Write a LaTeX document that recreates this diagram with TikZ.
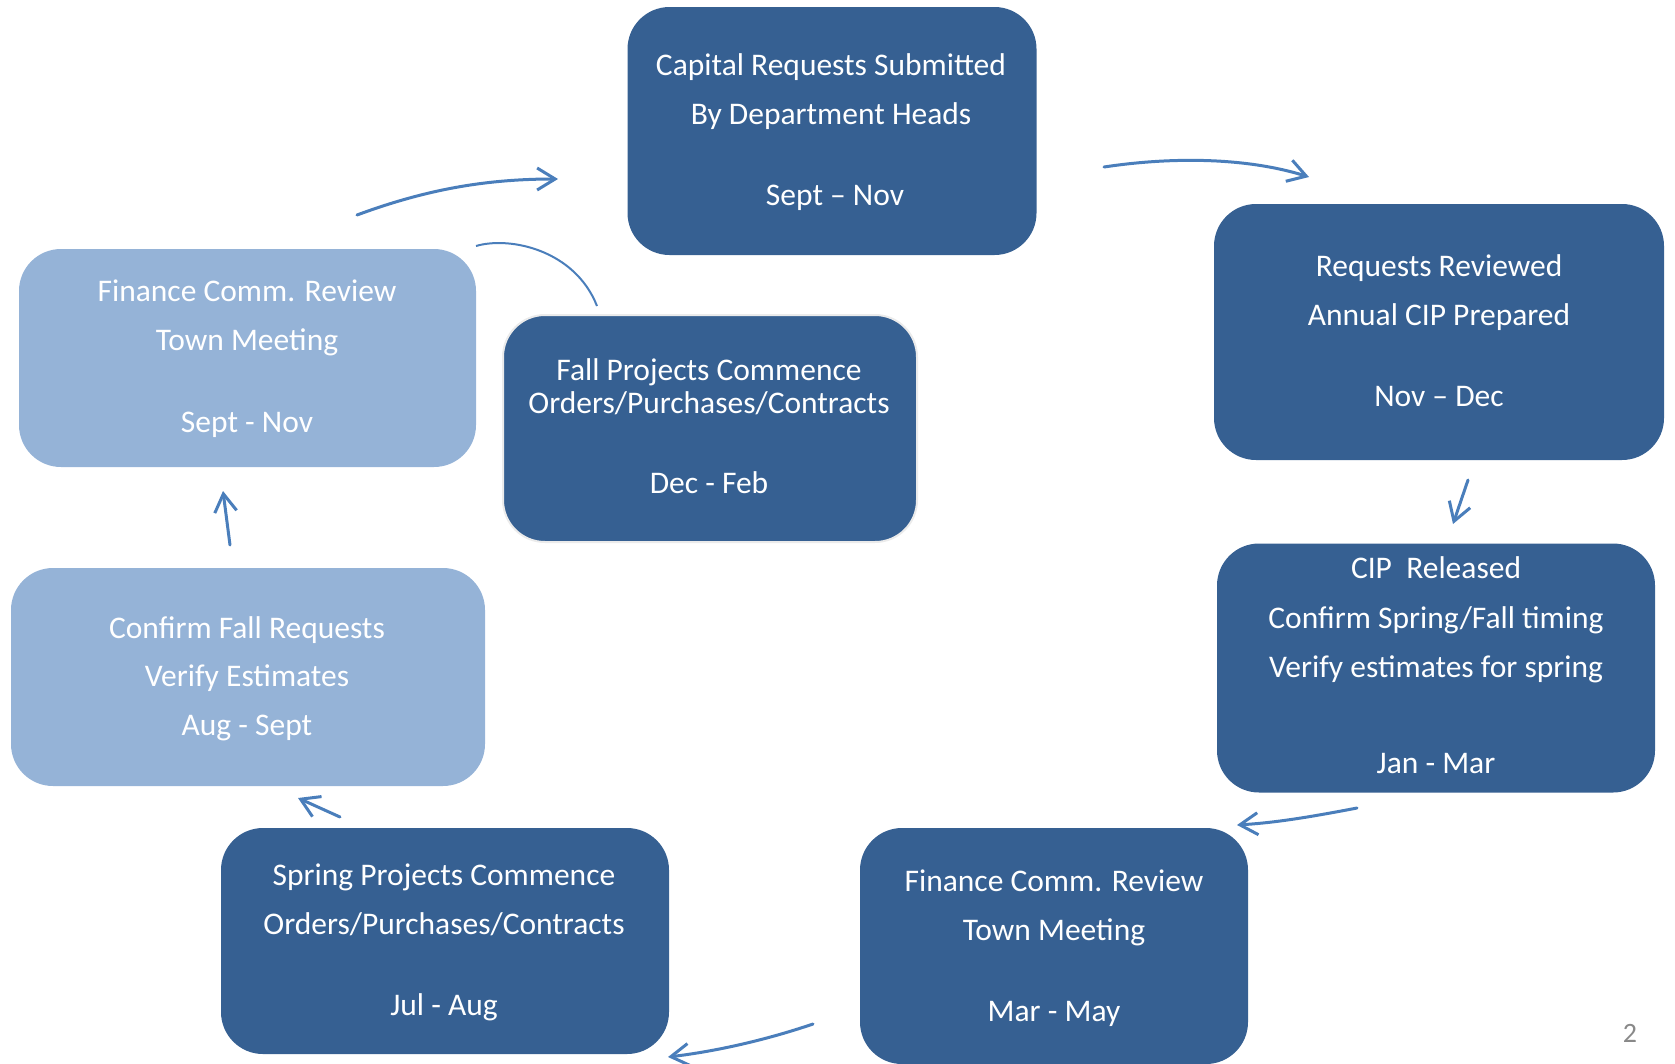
\documentclass[tikz,border=0pt]{standalone}
\usepackage{fontspec}
\setmainfont{Carlito}
\usetikzlibrary{arrows.meta}
\definecolor{boxdark}{RGB}{54,96,146}
\definecolor{boxlight}{RGB}{149,179,215}
\definecolor{arrowblue}{RGB}{74,126,187}
\definecolor{pagegray}{RGB}{137,137,137}
\tikzset{
  darkbox/.style={fill=boxdark, draw=none, rounded corners=42pt, inner sep=0pt},
  lightbox/.style={fill=boxlight, draw=none, rounded corners=42pt, inner sep=0pt},
  txt/.style={text=white, anchor=base, inner sep=0pt, font=\fontsize{31.5}{38}\selectfont},
  flowarrow/.style={draw=arrowblue, line width=3pt, line cap=round, -{Straight Barb[length=18pt,width=22pt,line width=3pt]}},
  thinarc/.style={draw=arrowblue, line width=2pt},
}
\begin{document}
\begin{tikzpicture}[x=1pt,y=-1pt]
\path[use as bounding box] (0,0) rectangle (1675,1063);
\clip (0,0) rectangle (1675,1063);

% boxes
\node[darkbox, minimum width=409pt, minimum height=248pt] (b1) at (832,131) {};
\node[darkbox, minimum width=450pt, minimum height=256pt] (b2) at (1439,332) {};
\node[darkbox, minimum width=438pt, minimum height=249pt] (b3) at (1436,668) {};
\node[darkbox, minimum width=388pt, minimum height=236pt] (b4) at (1054,946) {};
\node[darkbox, minimum width=448pt, minimum height=226pt] (b5) at (445,941) {};
\node[lightbox, minimum width=474pt, minimum height=218pt] (b6) at (248,677) {};
\node[lightbox, minimum width=457pt, minimum height=218pt] (b7) at (247.5,358) {};
\node[darkbox, draw=black!8, line width=2pt, minimum width=414pt, minimum height=227pt] (b8) at (710,428.5) {};

% texts
\node[txt] (t1a) at (831,75) {Capital Requests Submitted};
\node[txt] (t1b) at (831,124) {By Department Heads};
\node[txt] (t1c) at (835,205) {Sept -- Nov};

\node[txt] (t2a) at (1439,276) {Requests Reviewed};
\node[txt] (t2b) at (1439,325) {Annual CIP Prepared};
\node[txt] (t2c) at (1439,406) {Nov -- Dec};

\node[txt] (t3a) at (1436,578) {CIP\ \ Released};
\node[txt] (t3b) at (1436,628) {Confirm Spring/Fall timing};
\node[txt] (t3c) at (1436,677) {Verify estimates for spring};
\node[txt] (t3d) at (1436,773) {Jan - Mar};

\node[txt] (t4a) at (1054,891) {Finance Comm. Review};
\node[txt] (t4b) at (1054,940) {Town Meeting};
\node[txt] (t4c) at (1054,1021) {Mar - May};

\node[txt] (t5a) at (444,885) {Spring Projects Commence};
\node[txt] (t5b) at (444,934) {Orders/Purchases/Contracts};
\node[txt] (t5c) at (444,1015) {Jul - Aug};

\node[txt] (t6a) at (247,638) {Confirm Fall Requests};
\node[txt] (t6b) at (247,686) {Verify Estimates};
\node[txt] (t6c) at (247,735) {Aug - Sept};

\node[txt] (t7a) at (247,301) {Finance Comm. Review};
\node[txt] (t7b) at (247,350) {Town Meeting};
\node[txt] (t7c) at (247,432) {Sept - Nov};

\node[txt] (t8a) at (709,380) {Fall Projects Commence};
\node[txt] (t8b) at (709,413) {Orders/Purchases/Contracts};
\node[txt] (t8c) at (709,493) {Dec - Feb};

\node[text=pagegray, anchor=base, inner sep=0pt, font=\fontsize{28}{34}\selectfont] (pg) at (1630,1042) {2};

% arrow end points
\coordinate (a1s) at (357,215);  \coordinate (a1e) at (558,179);
\coordinate (a2s) at (1104,167); \coordinate (a2e) at (1309,177);
\coordinate (a3s) at (1468,480); \coordinate (a3e) at (1453,524);
\coordinate (a4s) at (1357,808); \coordinate (a4e) at (1237,825);
\coordinate (a5s) at (813,1024); \coordinate (a5e) at (668,1057);
\coordinate (a6s) at (340,817);  \coordinate (a6e) at (298,798);
\coordinate (a7s) at (230,545);  \coordinate (a7e) at (223,491);
\coordinate (arcs) at (476,246); \coordinate (arce) at (597,306);

\draw[flowarrow] (a1s) .. controls (430,188) and (490,179) .. (a1e);
\draw[flowarrow] (a2s) .. controls (1170,157) and (1245,157) .. (a2e);
\draw[flowarrow] (a3s) -- (a3e);
\draw[flowarrow] (a4s) .. controls (1300,819) and (1270,823) .. (a4e);
\draw[flowarrow] (a5s) .. controls (760,1042) and (710,1052) .. (a5e);
\draw[flowarrow] (a6s) -- (a6e);
\draw[flowarrow] (a7s) -- (a7e);
\draw[thinarc] (arcs) .. controls (510,236) and (575,250) .. (arce);
\end{tikzpicture}
\end{document}
